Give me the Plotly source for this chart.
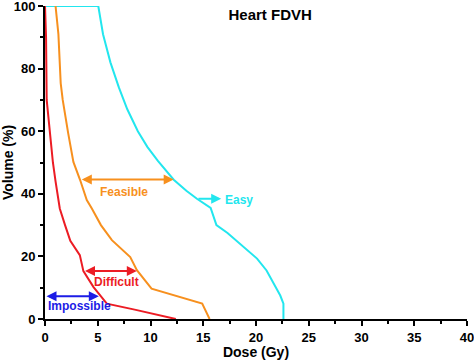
import plotly.graph_objects as go

# Dose (Gy) / Volume (%) curves
easy_dose = [0, 5.05, 5.5, 6.2, 7.0, 7.8, 8.8, 9.7, 10.7, 12.2, 13.4, 14.4, 15.7, 15.85, 16.25, 17.3, 18.5, 20.1, 21.0, 21.7, 22.3, 22.6, 22.6]
easy_vol  = [100, 100, 91, 82, 74, 67, 60, 55, 50.5, 44.5, 41, 38.4, 35.5, 34, 30, 27.5, 24.1, 19.3, 15.5, 11.3, 7.5, 4.9, 0]

feas_dose = [1.0, 1.27, 1.49, 1.68, 2.2, 2.69, 3.33, 3.96, 4.44, 5.3, 6.34, 8.08, 8.71, 10.1, 14.9, 15.6]
feas_vol  = [100, 91, 75.3, 70, 59.3, 50.2, 44.4, 38, 35.3, 30, 25.2, 19.8, 15.6, 9.7, 4.9, 0]

diff_dose = [0, 0.1, 0.16, 0.45, 0.75, 1.0, 1.4, 1.9, 2.4, 3.3, 3.64, 4.6, 5.86, 8.5, 10.9, 12.4]
diff_vol  = [100, 90, 70, 60, 50, 44, 35.3, 30, 25, 20.4, 15.3, 10.2, 4.9, 3, 1.2, 0]

# Arrow annotations: (dose start, dose end, volume)
feasible_arrow = [3.35, 12.2, 44.6]
difficult_arrow = [3.65, 8.7, 15.3]
impossible_arrow = [0.0, 5.1, 7.3]
easy_arrow = [14.4, 16.7, 38.4]

x_ticks = [0, 5, 10, 15, 20, 25, 30, 35, 40]
y_ticks = [0, 20, 40, 60, 80, 100]

CYAN = "#22E6EE"
ORANGE = "#F7901E"
RED = "#EC1C24"
BLUE = "#1C1CE6"
FONT = "Liberation Sans"

fig = go.Figure()
for xs, ys, c in [(easy_dose, easy_vol, CYAN), (feas_dose, feas_vol, ORANGE), (diff_dose, diff_vol, RED)]:
    fig.add_trace(go.Scatter(x=xs, y=ys, mode="lines", line=dict(color=c, width=2), showlegend=False, hoverinfo="skip"))

def arrow(x0, x1, y, color, side):
    fig.add_annotation(x=x1, y=y, ax=x0, ay=y, xref="x", yref="y", axref="x", ayref="y",
                       text="", showarrow=True, arrowhead=2, arrowsize=1, arrowwidth=2,
                       arrowcolor=color, arrowside=side, startarrowhead=2, startarrowsize=1,
                       standoff=0, startstandoff=0)

arrow(feasible_arrow[0], feasible_arrow[1], feasible_arrow[2], ORANGE, "end+start")
arrow(difficult_arrow[0], difficult_arrow[1], difficult_arrow[2], RED, "end+start")
arrow(impossible_arrow[0], impossible_arrow[1], impossible_arrow[2], BLUE, "end+start")
arrow(easy_arrow[0], easy_arrow[1], easy_arrow[2], CYAN, "end")

def label(x, y, text, color, anchor="left"):
    fig.add_annotation(x=x, y=y, xref="x", yref="y", text="<b>%s</b>" % text, showarrow=False,
                       xanchor=anchor, yanchor="middle", font=dict(family=FONT, size=12, color=color))

label(5.05, 40.5, "Feasible", ORANGE)
label(4.5, 11.8, "Difficult", RED)
label(0.05, 4.0, "Impossible", BLUE)
label(16.9, 38.0, "Easy", CYAN)

fig.update_layout(
    width=474, height=360,
    margin=dict(l=45, r=7, t=6, b=41, autoexpand=False),
    paper_bgcolor="white", plot_bgcolor="white",
    font=dict(family=FONT, color="black"),
    title=dict(text="<b>Heart FDVH</b>", x=0.57, y=0.958, xanchor="center", yanchor="middle",
               font=dict(family=FONT, size=15, color="black")),
    showlegend=False,
)
fig.update_xaxes(range=[0, 40], tickvals=x_ticks, ticktext=["<b>%d</b>" % v for v in x_ticks],
                 ticklabeloverflow="allow",
                 showgrid=False, zeroline=False, showline=True, linecolor="black", linewidth=2,
                 ticks="outside", ticklen=5, tickwidth=1.5, tickcolor="black",
                 tickfont=dict(family=FONT, size=13, color="black"),
                 minor=dict(dtick=2.5, tick0=0, ticks="outside", ticklen=3, tickwidth=1.5, tickcolor="black"),
                 title=dict(text="<b>Dose (Gy)</b>", font=dict(family=FONT, size=14, color="black"), standoff=3))
fig.update_yaxes(range=[0, 100], tickvals=y_ticks, ticktext=["<b>%d</b>" % v for v in y_ticks],
                 ticklabeloverflow="allow",
                 showgrid=False, zeroline=False, showline=True, linecolor="black", linewidth=2,
                 ticks="outside", ticklen=5, tickwidth=1.5, tickcolor="black",
                 tickfont=dict(family=FONT, size=13, color="black"),
                 minor=dict(dtick=10, tick0=0, ticks="outside", ticklen=3, tickwidth=1.5, tickcolor="black"),
                 title=dict(text="<b>Volume (%)</b>", font=dict(family=FONT, size=14, color="black"), standoff=5))

fig.write_html("out.html", config={"displayModeBar": False},
               post_script="document.body.style.margin='0';document.body.style.padding='0';")
